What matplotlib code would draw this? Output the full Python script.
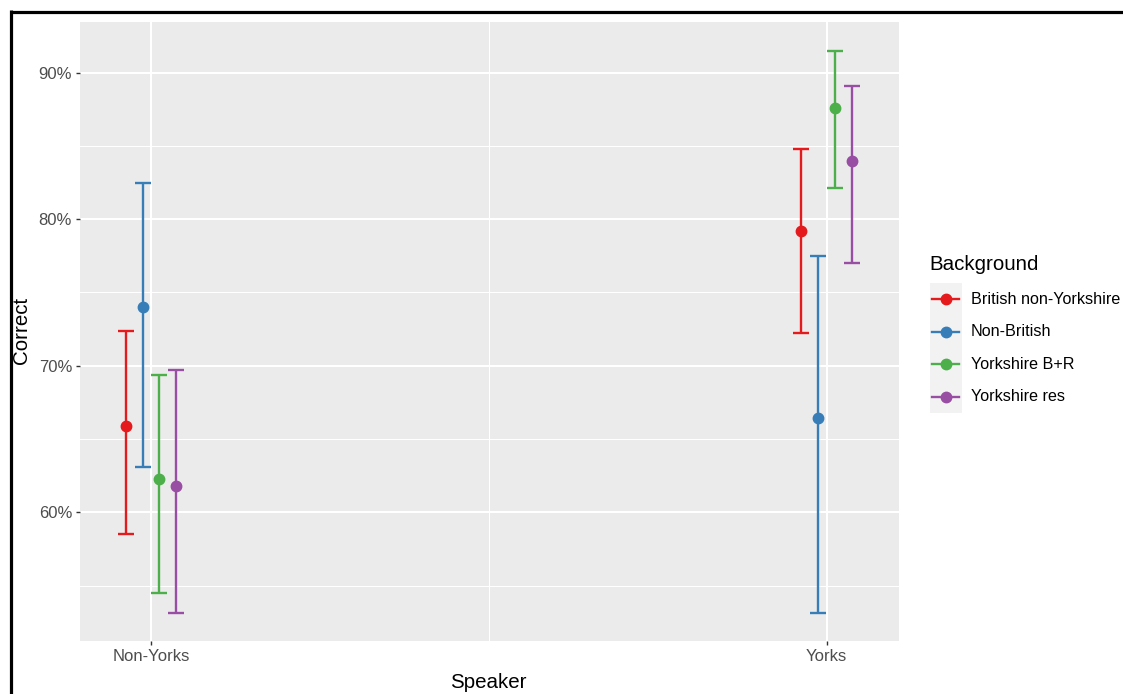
import matplotlib
matplotlib.use("Agg")
import matplotlib.pyplot as plt
from matplotlib.lines import Line2D
from matplotlib.patches import Rectangle
import numpy as np

# ---- data ----
speakers = ["Non-Yorks", "Yorks"]
groups = ["British non-Yorkshire", "Non-British", "Yorkshire B+R", "Yorkshire res"]
colors = ["#E41A1C", "#377EB8", "#4DAF4A", "#984EA3"]
# per group: values at [Non-Yorks, Yorks] (percent)
mean_vals = {
    "British non-Yorkshire": [65.9, 79.2],
    "Non-British": [74.0, 66.4],
    "Yorkshire B+R": [62.3, 87.6],
    "Yorkshire res": [61.8, 84.0],
}
lower_vals = {
    "British non-Yorkshire": [58.5, 72.2],
    "Non-British": [63.1, 53.1],
    "Yorkshire B+R": [54.5, 82.1],
    "Yorkshire res": [53.1, 77.0],
}
upper_vals = {
    "British non-Yorkshire": [72.4, 84.8],
    "Non-British": [82.5, 77.5],
    "Yorkshire B+R": [69.4, 91.5],
    "Yorkshire res": [69.7, 89.1],
}
y_ticks = [60, 70, 80, 90]
y_tick_labels = ["60%", "70%", "80%", "90%"]

W, H = 1123, 694
fig = plt.figure(figsize=(W / 100, H / 100), dpi=100)
fig.patch.set_facecolor("white")

def fx(x):
    return x / W

def fy(y):
    return 1 - y / H

# panel in pixels
pl, pr, pt, pb = 80, 899, 22, 641
ax = fig.add_axes([fx(pl), fy(pb), (pr - pl) / W, (pb - pt) / H])
ax.set_facecolor("#EBEBEB")
for s in ax.spines.values():
    s.set_visible(False)

ax.set_xlim(0.895, 2.107)
ax.set_ylim(51.22, 93.45)

# grid
for v in [55, 65, 75, 85]:
    ax.axhline(v, color="white", lw=0.75, zorder=0)
for v in y_ticks:
    ax.axhline(v, color="white", lw=1.5, zorder=0)
ax.axvline(1.5, color="white", lw=0.75, zorder=0)
for v in [1, 2]:
    ax.axvline(v, color="white", lw=1.5, zorder=0)

dodge_w = 0.1
n = len(groups)
xpos = np.arange(1, len(speakers) + 1)
for i, g in enumerate(groups):
    off = -dodge_w / 2 + dodge_w * (i + 0.5) / n
    m = np.array(mean_vals[g])
    lo = np.array(lower_vals[g])
    hi = np.array(upper_vals[g])
    ax.errorbar(xpos + off, m, yerr=[m - lo, hi - m], fmt="o", color=colors[i],
                ms=7.5, elinewidth=1.7, capsize=6.0, capthick=1.7, zorder=3)

ax.set_xticks(xpos)
ax.set_xticklabels(speakers)
ax.set_yticks(y_ticks)
ax.set_yticklabels(y_tick_labels)
ax.tick_params(axis="both", length=3.2, width=1.0, color="#333333",
               labelcolor="#4D4D4D", labelsize=12, pad=2.5)
for lab in ax.get_xticklabels() + ax.get_yticklabels():
    lab.set_fontfamily("Liberation Sans")

ax.set_xlabel("Speaker", fontsize=14.8, family="Liberation Sans", color="black", va="center")
ax.xaxis.set_label_coords((488 - pl) / (pr - pl), (pb - 682) / (pb - pt))
ax.set_ylabel("Correct", fontsize=14.8, family="Liberation Sans", color="black", va="center", ha="center")
ax.yaxis.set_label_coords((21 - pl) / (pr - pl), (pb - 330) / (pb - pt))

# legend (ggplot style)
fig.text(fx(929), fy(264), "Background", fontsize=14.8, family="Liberation Sans",
         ha="left", va="center", color="black")
key_l, key_r = 930, 962
key_top = 283
key_h = 32.5
for i, g in enumerate(groups):
    ktop = key_top + i * key_h
    fig.add_artist(Rectangle((fx(key_l), fy(ktop + key_h)), (key_r - key_l) / W, key_h / H,
                             transform=fig.transFigure, facecolor="#F2F2F2", edgecolor="none"))
    yc = ktop + key_h / 2
    fig.add_artist(Line2D([fx(932), fx(959)], [fy(yc), fy(yc)], transform=fig.transFigure,
                          color=colors[i], lw=1.7))
    fig.add_artist(Line2D([fx(945.5)], [fy(yc)], transform=fig.transFigure,
                          color=colors[i], marker="o", ms=7.5, lw=0))
    fig.text(fx(971), fy(yc), g, fontsize=11.6, family="Liberation Sans",
             ha="left", va="center", color="black")

# black frame (top and left)
fig.add_artist(Line2D([fx(11), fx(1123)], [fy(11.5), fy(11.5)], transform=fig.transFigure,
                      color="black", lw=2.3, solid_capstyle="butt"))
fig.add_artist(Line2D([fx(11), fx(11)], [fy(10.4), fy(694)], transform=fig.transFigure,
                      color="black", lw=2.3, solid_capstyle="butt"))

fig.savefig("out.png", dpi=100)
